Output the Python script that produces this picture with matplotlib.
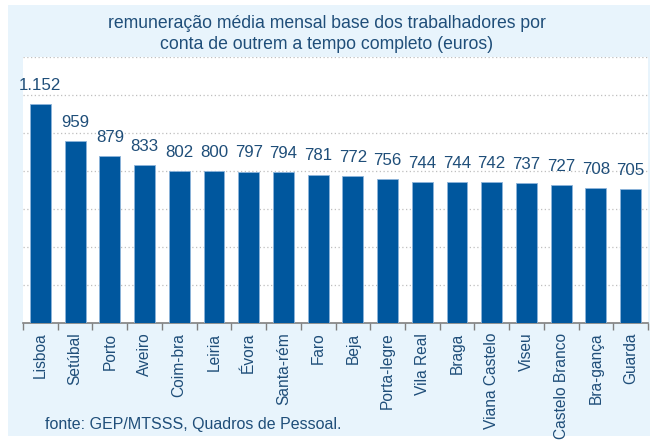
import matplotlib.pyplot as plt
from matplotlib.patches import Rectangle

# --Dados
distritos = ['Lisboa', 'Setúbal', 'Porto', 'Aveiro', 'Coim-bra', 'Leiria', 'Évora',
             'Santa-rém', 'Faro', 'Beja', 'Porta-legre', 'Vila Real', 'Braga',
             'Viana Castelo', 'Viseu', 'Castelo Branco', 'Bra-gança', 'Guarda']
valores = [1152, 959, 879, 833, 802, 800, 797, 794, 781, 772, 756, 744, 744,
           742, 737, 727, 708, 705]
rotulos = ['1.152', '959', '879', '833', '802', '800', '797', '794', '781', '772',
           '756', '744', '744', '742', '737', '727', '708', '705']

plt.rcParams['font.family'] = ['Liberation Sans', 'DejaVu Sans']
azul_txt = '#1F4E79'
azul_barra = '#00579E'

fig = plt.figure(figsize=(6.5, 4.41), dpi=100)
fig.patch.set_facecolor('white')
fundo = Rectangle((8 / 650, 5 / 441), 642 / 650, 431 / 441,
                  transform=fig.transFigure, facecolor='#E8F4FC',
                  edgecolor='none', zorder=-10)
fig.add_artist(fundo)

ax = fig.add_axes([23 / 650, 118 / 441, 625 / 650, 266 / 441])
ax.set_facecolor('white')
x = range(len(distritos))
ax.bar(x, valores, width=0.6, color=azul_barra, edgecolor='#8DB4DA', linewidth=0.6, zorder=3)
ax.set_xlim(-0.5, len(distritos) - 0.5)
ax.set_ylim(0, 1400)
ax.set_yticks(range(0, 1401, 200))
ax.yaxis.grid(True, linestyle=(0, (1, 2)), color='#BFBFBF', linewidth=0.9, zorder=1)
ax.tick_params(axis='y', left=False, labelleft=False)

# --Marcas entre categorias
ax.set_xticks([i - 0.5 for i in range(len(distritos) + 1)], minor=False)
ax.set_xticklabels([])
ax.tick_params(axis='x', direction='out', length=5, color='#808080', width=1)
ax.set_xticks(list(x), minor=True)
ax.set_xticklabels(distritos, minor=True, rotation=90, fontsize=11.2, color=azul_txt)
ax.tick_params(axis='x', which='minor', length=0, pad=7)

for s in ['top', 'right', 'left']:
    ax.spines[s].set_visible(False)
ax.spines['bottom'].set_color('#808080')
ax.spines['bottom'].set_linewidth(1.2)

for i, v in enumerate(valores):
    ax.annotate(rotulos[i], (i, v), xytext=(0, 8), textcoords='offset points',
                ha='center', va='bottom', fontsize=12.2, color=azul_txt)

fig.text(0.503, 1 - 34 / 441, 'remuneração média mensal base dos trabalhadores por\n'
         'conta de outrem a tempo completo (euros)', ha='center', va='center',
         fontsize=12.7, color=azul_txt, linespacing=1.25)
fig.text(45 / 650, 1 - 424 / 441, 'fonte: GEP/MTSSS, Quadros de Pessoal.',
         ha='left', va='center', fontsize=11.5, color=azul_txt)

fig.savefig('out.png', dpi=100, facecolor=fig.get_facecolor())
